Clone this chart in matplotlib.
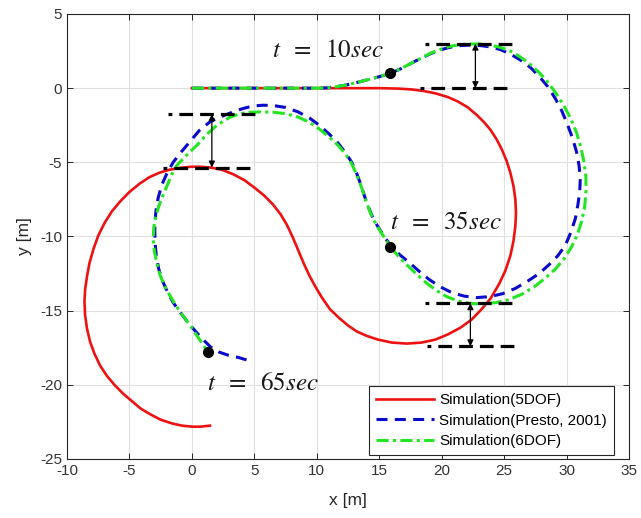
import matplotlib
matplotlib.use("Agg")
import matplotlib.pyplot as plt

plt.rcParams["font.family"] = ["Liberation Sans", "DejaVu Sans"]
plt.rcParams["mathtext.fontset"] = "stix"
plt.rcParams["axes.unicode_minus"] = False

# 5DOF trajectory
red_x = [0, 15, 16.5, 17.5, 18.5, 19.5, 20.5, 21.3, 22.1, 22.8, 23.4, 23.9, 24.4, 24.8, 25.2, 25.5,
         25.75, 25.9, 25.95, 25.9, 25.75, 25.5, 25.1, 24.6, 23.9, 23.2, 22.4, 21.5, 20.5, 19.5,
         18.4, 17.2, 16.0, 14.9, 14.0, 13.2, 12.5, 11.8, 11.05, 10.4, 9.9, 9.45, 9.0, 8.55, 8.1,
         7.6, 7.1, 6.5, 5.8, 5.0, 4.2, 3.3, 2.4, 1.5, 0.7, -0.1, -0.9, -1.8, -2.6, -3.4, -4.2,
         -5.0, -5.7, -6.4, -7.0, -7.5, -7.9, -8.2, -8.4, -8.55, -8.6, -8.55, -8.4, -8.15, -7.8,
         -7.35, -6.8, -6.2, -5.5, -4.8, -4.1, -3.3, -2.5, -1.6, -0.8, 0.0, 0.7, 1.45]
red_y = [0, 0, -0.03, -0.08, -0.18, -0.35, -0.6, -0.9, -1.3, -1.8, -2.3, -2.8, -3.45, -4.1, -4.9, -5.7,
         -6.6, -7.5, -8.4, -9.3, -10.3, -11.3, -12.3, -13.2, -14.2, -14.9, -15.6, -16.15, -16.6, -16.95,
         -17.15, -17.22, -17.15, -16.95, -16.7, -16.4, -16.0, -15.5, -14.9, -14.1, -13.4, -12.7, -11.9, -11.0, -10.1,
         -9.2, -8.5, -7.85, -7.25, -6.7, -6.2, -5.8, -5.5, -5.35, -5.3, -5.3, -5.37, -5.5, -5.7, -6.0, -6.45,
         -7.0, -7.6, -8.3, -9.1, -9.95, -10.9, -11.8, -12.7, -13.6, -14.4, -15.3, -16.2, -17.1, -17.9,
         -18.7, -19.4, -20.0, -20.6, -21.1, -21.6, -22.0, -22.35, -22.6, -22.75, -22.82, -22.82, -22.75]

# Presto, 2001
blue_x = [0, 10, 10.8, 11.6, 12.4, 13.2, 14.0, 14.9, 15.9, 16.7, 17.5, 18.3, 19.1, 19.9, 20.7, 21.5,
          22.3, 23.1, 23.9, 24.7, 25.5, 26.3, 27.1, 27.8, 28.5, 29.1, 29.6, 30.05, 30.45, 30.8,
          31.0, 31.1, 31.05, 30.9, 30.7, 30.35, 29.9, 29.3, 28.6, 27.8, 26.9, 25.9, 24.9, 23.9,
          22.8, 21.8, 20.8, 19.9, 19.0, 18.2, 17.4, 16.6, 15.9, 15.4, 14.9, 14.5, 14.15, 13.85,
          13.55, 13.2, 12.8, 12.3, 11.7, 11.0, 10.2, 9.4, 8.5, 7.5, 6.5, 5.7, 4.9, 4.1, 3.3, 2.4,
          1.45, 0.6, -0.15, -0.85, -1.5, -2.0, -2.4, -2.7, -2.88, -2.97, -2.95, -2.85, -2.65,
          -2.35, -1.95, -1.5, -0.95, -0.35, 0.3, 0.9, 1.5, 2.2, 2.9, 3.7, 4.5]
blue_y = [0, 0, 0.02, 0.1, 0.22, 0.38, 0.55, 0.75, 1.0, 1.3, 1.65, 2.0, 2.32, 2.58, 2.76, 2.87,
          2.9, 2.87, 2.78, 2.6, 2.3, 1.9, 1.4, 0.8, 0.1, -0.7, -1.5, -2.4, -3.3, -4.3,
          -5.2, -6.1, -7.0, -7.9, -8.8, -9.7, -10.6, -11.3, -11.9, -12.5, -13.0, -13.5, -13.85, -14.05,
          -14.12, -14.02, -13.78, -13.4, -12.9, -12.35, -11.75, -11.2, -10.6, -10.0, -9.35, -8.75, -8.05, -7.35,
          -6.55, -5.75, -5.0, -4.35, -3.7, -3.1, -2.5, -2.0, -1.6, -1.3, -1.17, -1.15, -1.2, -1.37, -1.6, -1.9,
          -2.27, -2.85, -3.6, -4.3, -5.0, -5.75, -6.5, -7.4, -8.3, -9.2, -10.4, -11.3, -12.2,
          -13.0, -13.75, -14.45, -15.1, -15.75, -16.4, -16.95, -17.45, -17.8, -18.0, -18.15, -18.35]

# 6DOF trajectory
green_x = [0, 10, 10.8, 11.6, 12.4, 13.2, 14.0, 14.9, 15.9, 16.7, 17.5, 18.3, 19.1, 19.9, 20.7, 21.5,
           22.3, 23.1, 23.9, 24.7, 25.5, 26.3, 27.1, 27.8, 28.5, 29.2, 29.8, 30.3, 30.8, 31.15,
           31.4, 31.55, 31.55, 31.45, 31.2, 30.85, 30.4, 29.8, 29.1, 28.3, 27.4, 26.4, 25.4, 24.4,
           23.3, 22.3, 21.3, 20.4, 19.6, 18.8, 18.0, 17.2, 16.5, 15.9, 15.4, 14.9, 14.5, 14.15,
           13.85, 13.55, 13.2, 12.8, 12.3, 11.7, 11.0, 10.2, 9.4, 8.5, 7.5, 6.5, 5.45, 4.6, 3.85,
           3.0, 2.0, 1.2, 0.4, -0.4, -1.2, -1.6, -1.95, -2.3, -2.65, -2.9, -3.05, -3.1, -3.0,
           -2.8, -2.55, -2.2, -1.75, -1.25, -0.7, -0.1, 0.5, 0.9, 1.3]
green_y = [0, 0, 0.02, 0.1, 0.22, 0.38, 0.55, 0.75, 1.0, 1.3, 1.65, 2.0, 2.35, 2.62, 2.82, 2.94,
           2.98, 2.97, 2.9, 2.75, 2.5, 2.1, 1.6, 1.05, 0.4, -0.4, -1.2, -2.0, -3.0, -4.0,
           -5.0, -6.0, -7.0, -8.0, -9.0, -9.9, -10.7, -11.5, -12.2, -12.8, -13.4, -13.9, -14.25, -14.45,
           -14.55, -14.52, -14.35, -14.05, -13.65, -13.15, -12.55, -11.9, -11.3, -10.7, -10.05, -9.4, -8.8, -8.1,
           -7.4, -6.6, -5.85, -5.1, -4.45, -3.85, -3.3, -2.75, -2.3, -1.95, -1.72, -1.62, -1.6, -1.63, -1.72,
           -1.98, -2.5, -3.1, -3.85, -4.5, -5.2, -5.8, -6.5, -7.2, -7.95, -8.7, -9.4, -10.2, -11.0,
           -11.8, -12.6, -13.3, -14.0, -14.7, -15.35, -16.05, -16.8, -17.3, -17.8]

# markers at given times
t_labels = ["10", "35", "65"]
dot_x = [15.86, 15.86, 1.3]
dot_y = [1.0, -10.7, -17.8]
lab_x = [6.4, 15.9, 1.2]
lab_y = [2.6, -9.0, -19.9]

# black reference dashes and offset arrows
seg_y = [-1.75, -5.35, 3.0, 0.0, -14.5, -17.4]
seg_x0 = [-1.9, -2.3, 18.7, 18.3, 18.7, 18.8]
seg_x1 = [5.2, 4.9, 25.7, 25.2, 25.7, 25.9]
arr_x = [1.6, 22.7, 22.3]
arr_top = [-1.75, 3.0, -14.5]
arr_bot = [-5.35, 0.0, -17.4]

fig = plt.figure(figsize=(6.41, 5.18), dpi=100)
ax = fig.add_axes([0.1045, 0.1139, 0.8768, 0.8591])

ax.plot(red_x, red_y, color="#ee1111", lw=1.9, label="Simulation(5DOF)", zorder=3)
ax.plot(blue_x, blue_y, color="#0a0acc", lw=2.2, dashes=(3.6, 2.4),
        label="Simulation(Presto, 2001)", zorder=4)
ax.plot(green_x, green_y, color="#22e622", lw=2.2, dashes=(4.0, 1.4, 1.0, 1.4),
        label="Simulation(6DOF)", zorder=5)

for y, x0, x1 in zip(seg_y, seg_x0, seg_x1):
    ax.plot([x0, x1], [y, y], color="black", lw=2.3, ls=(3.1, (4.3, 2.2)), zorder=6)

for x, y0, y1 in zip(arr_x, arr_top, arr_bot):
    ax.annotate("", xy=(x, y1), xytext=(x, y0),
                arrowprops=dict(arrowstyle="<|-|>", color="black", lw=0.9,
                                mutation_scale=9, shrinkA=0, shrinkB=0), zorder=7)

ax.plot(dot_x, dot_y, "o", color="black", ms=7, zorder=8)
for t, x, y in zip(t_labels, lab_x, lab_y):
    ax.text(x, y, r"$t\;\ =\ \;%ssec$" % t, fontsize=18, va="center", ha="left",
            color="#1a1a1a", zorder=9)

ax.set_xlim(-10, 35)
ax.set_ylim(-25, 5)
ax.set_xticks(range(-10, 36, 5))
ax.set_yticks(range(-25, 6, 5))
ax.grid(True, color="#e0e0e0", lw=0.8)
ax.set_axisbelow(True)
ax.tick_params(direction="in", top=True, right=True, length=4, width=0.7,
               labelsize=11, labelcolor="#333333", color="#262626")
for s in ax.spines.values():
    s.set_color("#262626")
    s.set_linewidth(0.8)

ax.set_xlabel("x [m]", fontsize=12.5, color="#262626", labelpad=11)
ax.set_ylabel("y [m]", fontsize=12.5, color="#262626", labelpad=6)

leg = ax.legend(loc="lower right", bbox_to_anchor=(0.973, 0.009), borderaxespad=0,
                fontsize=11, fancybox=False, framealpha=1, edgecolor="#262626",
                handlelength=3.8, labelspacing=0.42, borderpad=0.45, handletextpad=0.35)
leg.get_frame().set_linewidth(0.8)
leg.set_zorder(10)

fig.savefig("out.png", dpi=100)
